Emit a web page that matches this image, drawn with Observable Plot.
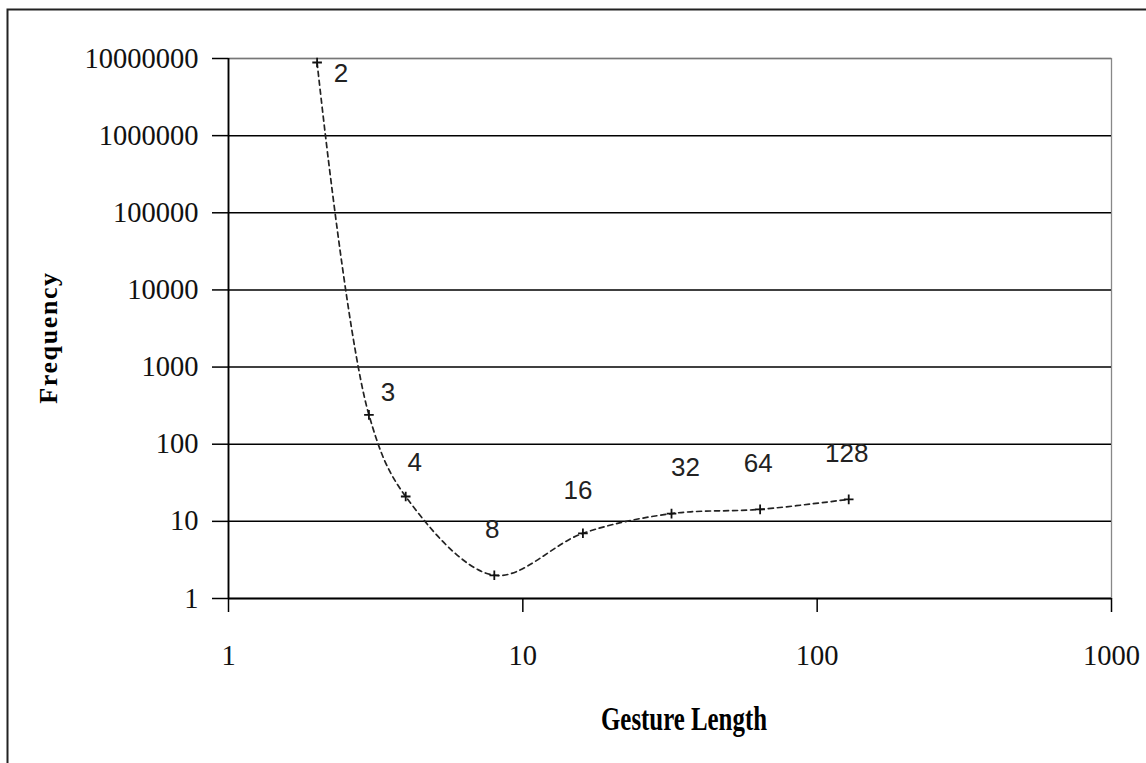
<!DOCTYPE html>
<html>
<head>
<meta charset="utf-8">
<script src="https://cdn.jsdelivr.net/npm/d3@7"></script>
<script src="https://cdn.jsdelivr.net/npm/@observablehq/plot@0.6"></script>
<style>
  html, body { margin: 0; padding: 0; background: #fff; overflow: hidden; }
  #chart { position: relative; width: 1146px; height: 763px; }
</style>
</head>
<body>
<div id="chart"></div>
<script>
// Data
const lengths = [2, 3, 4, 8, 16, 32, 64, 128];
const frequencies = [8870000, 240, 21, 2, 7, 12.6, 14.3, 19.3];
const xTicks = [1, 10, 100, 1000];
const yTicks = [1, 10, 100, 1000, 10000, 100000, 1000000, 10000000];
const xTitle = "Gesture Length";
const yTitle = "Frequency";

const data = lengths.map((len, i) => ({len, freq: frequencies[i], label: String(len)}));
const pick = vals => data.filter(d => vals.includes(d.len));

const W = 1146, H = 763;
const serif = "Liberation Serif, Times New Roman, serif";
const sans = "Liberation Sans, Arial, sans-serif";
const lbl = {x: "len", y: "freq", text: "label", fontSize: 26, fontFamily: sans, fill: "#222"};

const chart = Plot.plot({
  width: W,
  height: H,
  marginLeft: 228,
  marginRight: 35,
  marginTop: 58,
  marginBottom: 165,
  style: {fontFamily: serif, fontSize: "28px", color: "#000", background: "#fff", overflow: "visible"},
  x: {type: "log", domain: [1, 1000], insetLeft: 0, insetRight: 0},
  y: {type: "log", domain: [1, 10000000], insetTop: 0, insetBottom: 0},
  marks: [
    Plot.frame({stroke: "#888", strokeWidth: 1.3}),
    Plot.ruleY(yTicks.slice(1, -1), {stroke: "#000", strokeWidth: 1.5}),
    Plot.ruleY([yTicks[yTicks.length - 1]], {stroke: "#777", strokeWidth: 1.3}),
    Plot.axisY({ticks: yTicks, tickFormat: d => String(d), tickSize: 16, tickPadding: 14, label: null,
                fontSize: 28.5, fontFamily: serif, fill: "#111", stroke: "#000", strokeWidth: 1.5}),
    Plot.axisX({ticks: xTicks, tickFormat: d => String(d), tickSize: 14, tickPadding: 32, label: null,
                fontSize: 28.5, fontFamily: serif, fill: "#111", stroke: "#000", strokeWidth: 1.5}),
    Plot.ruleX([1], {stroke: "#000", strokeWidth: 1.8}),
    Plot.ruleY([1], {stroke: "#000", strokeWidth: 1.8}),
    Plot.line(data, {x: "len", y: "freq", curve: "catmull-rom", stroke: "#222", strokeWidth: 1.7, strokeDasharray: "5,4"}),
    Plot.dot(data, {x: "len", y: "freq", symbol: "plus", r: 3.2, stroke: "#111", strokeWidth: 1.8}),
    Plot.text(pick([2]), {...lbl, dx: 24, dy: 11}),
    Plot.text(pick([3]), {...lbl, dx: 19, dy: -22}),
    Plot.text(pick([4]), {...lbl, dx: 9, dy: -34}),
    Plot.text(pick([8, 64, 128]), {...lbl, dx: -2, dy: -46}),
    Plot.text(pick([16]), {...lbl, dx: -5, dy: -43}),
    Plot.text(pick([32]), {...lbl, dx: 14, dy: -46}),
    Plot.text([xTitle], {frameAnchor: "bottom", dx: 14, dy: 131, text: d => d, fontWeight: "bold", fontSize: 34, fontFamily: serif, className: "xtitle"}),
    Plot.text([yTitle], {frameAnchor: "left", textAnchor: "middle", dx: -180, dy: 9, rotate: -90, text: d => d, fontWeight: "bold", fontSize: 26, fontFamily: serif, className: "ytitle"})
  ]
});

// condense / space axis titles to the widths seen in the reference
d3.select(chart).selectAll(".xtitle text").attr("textLength", 166).attr("lengthAdjust", "spacingAndGlyphs");
d3.select(chart).selectAll(".ytitle text").attr("letter-spacing", "1.6px");

// outer border (only top and left edges fall inside the picture)
d3.select(chart).insert("rect", ":first-child")
  .attr("x", 7.5).attr("y", 9.5).attr("width", 1300).attr("height", 900)
  .attr("fill", "none").attr("stroke", "#222").attr("stroke-width", 2);

document.getElementById("chart").appendChild(chart);
</script>
</body>
</html>
